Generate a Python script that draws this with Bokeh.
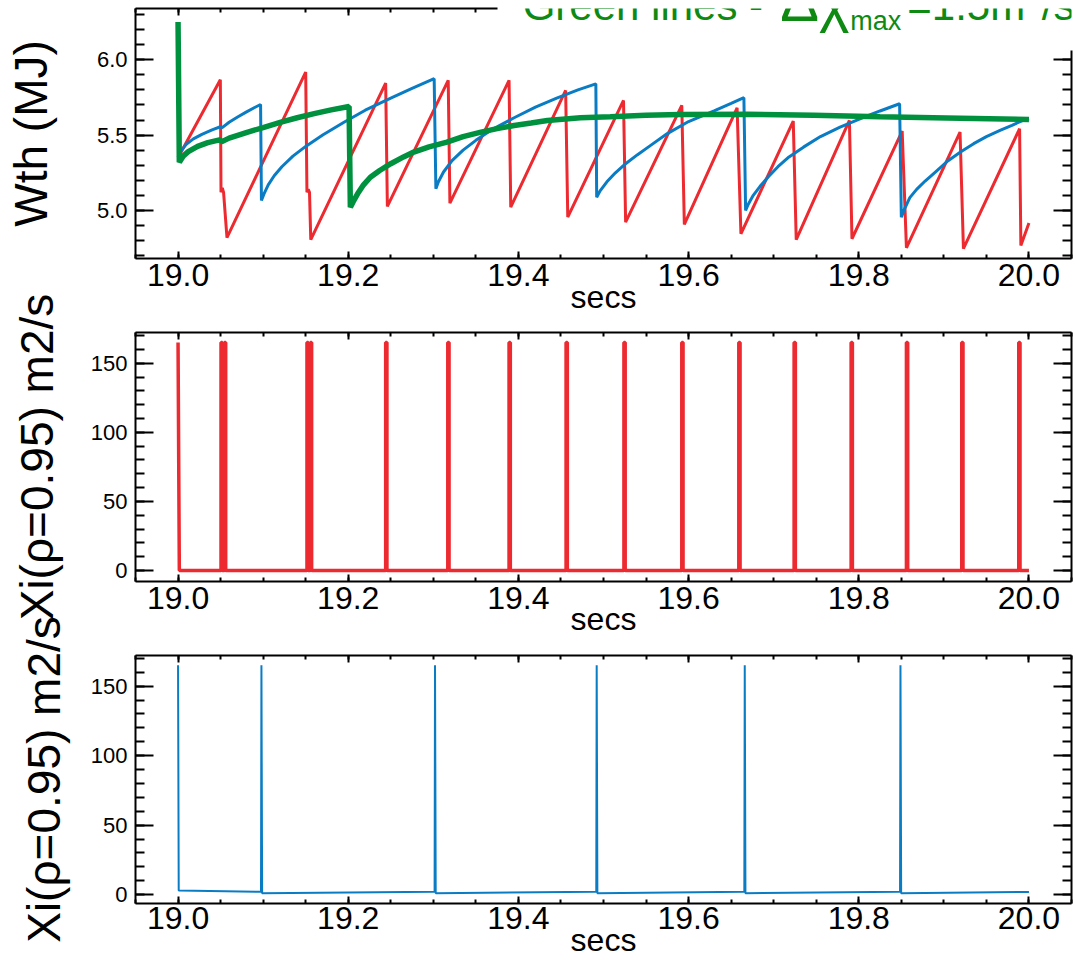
from bokeh.plotting import figure
from bokeh.models import LinearAxis, FixedTicker, NumeralTickFormatter, Range1d, Label
from bokeh.layouts import column
from bokeh.embed import file_html
from bokeh.resources import INLINE

# ---------------- data ----------------
# Stored energy Wth (MJ) - red case
red_t = [19.000, 19.0497, 19.0505, 19.0520, 19.0535, 19.0575, 19.1500, 19.1515, 19.1530,
         19.1545, 19.1560, 19.2440, 19.2460, 19.3175, 19.3195, 19.3890, 19.3910, 19.4555,
         19.4580, 19.5235, 19.5260, 19.5920, 19.5950, 19.6570, 19.6615, 19.7230, 19.7265,
         19.7890, 19.7920, 19.8510, 19.8560, 19.9190, 19.9230, 19.9890, 19.9905, 20.0000]
red_w = [5.35, 5.867, 5.12, 5.15, 5.12, 4.82, 5.918, 5.12, 5.14,
         5.12, 4.806, 5.845, 5.027, 5.863, 5.048, 5.863, 5.022, 5.796,
         4.956, 5.73, 4.922, 5.697, 4.907, 5.681, 4.845, 5.593, 4.806,
         5.597, 4.812, 5.526, 4.752, 5.52, 4.746, 5.542, 4.768, 4.916]

# Stored energy Wth (MJ) - blue case
blue_t = [19.000, 19.004, 19.010, 19.018, 19.028, 19.040, 19.0505, 19.0515, 19.060, 19.070,
          19.080, 19.090, 19.097, 19.098, 19.101, 19.106, 19.113, 19.122, 19.135, 19.150,
          19.170, 19.195, 19.220, 19.250, 19.275, 19.301, 19.303, 19.306, 19.312, 19.322,
          19.335, 19.350, 19.370, 19.395, 19.420, 19.445, 19.470, 19.491, 19.492, 19.496,
          19.504, 19.514, 19.526, 19.540, 19.555, 19.575, 19.600, 19.630, 19.650, 19.665,
          19.667, 19.670, 19.676, 19.684, 19.694, 19.705, 19.718, 19.735, 19.755, 19.778,
          19.800, 19.825, 19.848, 19.850, 19.853, 19.860, 19.868, 19.878, 19.890, 19.905,
          19.920, 19.935, 19.950, 19.966, 19.980, 19.993, 20.000]
blue_w = [5.35, 5.40, 5.44, 5.475, 5.505, 5.535, 5.557, 5.548, 5.585, 5.62,
          5.652, 5.683, 5.703, 5.066, 5.11, 5.17, 5.23, 5.29, 5.36, 5.425,
          5.50, 5.585, 5.665, 5.745, 5.81, 5.874, 5.144, 5.19, 5.255, 5.33,
          5.40, 5.465, 5.54, 5.615, 5.685, 5.745, 5.80, 5.84, 5.088, 5.13,
          5.19, 5.25, 5.31, 5.37, 5.43, 5.51, 5.59, 5.66, 5.71, 5.748,
          5.00, 5.04, 5.10, 5.16, 5.225, 5.29, 5.355, 5.42, 5.49, 5.553,
          5.605, 5.66, 5.708, 4.955, 5.00, 5.085, 5.14, 5.195, 5.255, 5.33,
          5.39, 5.443, 5.49, 5.531, 5.565, 5.598, 5.608]

# Stored energy Wth (MJ) - green case
green_t = [19.000, 19.0015, 19.006, 19.012, 19.023, 19.035, 19.050, 19.051, 19.060, 19.082,
           19.100, 19.121, 19.140, 19.160, 19.180, 19.201, 19.2025, 19.206, 19.211, 19.218,
           19.226, 19.237, 19.250, 19.265, 19.277, 19.295, 19.316, 19.335, 19.356, 19.375,
           19.395, 19.415, 19.434, 19.473, 19.508, 19.550, 19.590, 19.669, 19.747, 19.825,
           19.903, 20.000]
green_w = [6.25, 5.32, 5.36, 5.39, 5.425, 5.45, 5.47, 5.455, 5.48, 5.52,
           5.55, 5.586, 5.615, 5.642, 5.667, 5.69, 5.022, 5.06, 5.11, 5.17,
           5.22, 5.265, 5.31, 5.355, 5.387, 5.422, 5.453, 5.49, 5.52, 5.543,
           5.564, 5.58, 5.597, 5.615, 5.622, 5.632, 5.637, 5.638, 5.632, 5.621,
           5.614, 5.604]

# Xi(rho=0.95) spikes, red case (times of each spike, m2/s)
xi_red_spike_t = [19.0505, 19.0545, 19.1515, 19.1555, 19.244, 19.317, 19.389, 19.456,
                  19.524, 19.592, 19.659, 19.724, 19.791, 19.856, 19.921, 19.988]
xi_red_peak = 165.0
xi_red_base = 0.0

# Xi(rho=0.95) spikes, blue case
xi_blue_spike_t = [19.000, 19.098, 19.302, 19.492, 19.666, 19.849]
xi_blue_peak = 165.0
xi_blue_base_start = [3.0, 1.0, 1.0, 1.0, 1.0, 1.0]
xi_blue_base_end = [2.0, 2.0, 2.0, 2.0, 2.0, 1.9]

x_ticks = [19.0, 19.2, 19.4, 19.6, 19.8, 20.0]
w_ticks = [5.0, 5.5, 6.0]
xi_ticks = [0, 50, 100, 150]

# ---------------- styling ----------------
FONT = "Liberation Sans"
RED = "#ec2a30"
BLUE = "#0a7cc4"
GREEN = "#00913f"
TITLE_GREEN = "#0e8a12"
XR = (18.95, 20.05)
x_minor = [round(18.95 + 0.05 * i, 2) for i in range(23)]
w_minor = [round(4.7 + 0.1 * i, 1) for i in range(17)]
xi_minor = [10 * i for i in range(18)]
TOP_AXIS_END = 19.376   # top axis of panel 1 is hidden right of the title


def build_spikes_red():
    xs, ys = [19.0, 19.0015], [xi_red_peak, xi_red_base]
    w = 0.0015
    for t in xi_red_spike_t:
        xs += [t, t, t + w, t + w]
        ys += [xi_red_base, xi_red_peak, xi_red_peak, xi_red_base]
    xs.append(20.0)
    ys.append(xi_red_base)
    return xs, ys


def build_spikes_blue():
    xs, ys = [], []
    n = len(xi_blue_spike_t)
    for i, t in enumerate(xi_blue_spike_t):
        xs.append(t)
        ys.append(xi_blue_peak)
        t_next = xi_blue_spike_t[i + 1] - 0.0005 if i + 1 < n else 20.0
        xs += [t + 0.0008, t_next]
        ys += [xi_blue_base_start[i], xi_blue_base_end[i]]
    return xs, ys


def make_fig(height, yr, top_b, bot_b, transparent):
    p = figure(width=1075, height=height, x_range=Range1d(*XR), y_range=Range1d(*yr),
               x_axis_type=None, y_axis_type=None, output_backend="svg",
               toolbar_location=None, min_border_left=135, min_border_right=4,
               min_border_top=top_b, min_border_bottom=bot_b)
    p.outline_line_color = None
    if transparent:
        p.border_fill_color = None
    return p


def style(ax, tick_in, minor_in, labels, font_size="22px"):
    ax.axis_line_width = 2
    ax.axis_line_color = "black"
    ax.major_tick_line_width = 2
    ax.minor_tick_line_width = 2
    ax.major_tick_line_color = "black"
    ax.minor_tick_line_color = "black"
    ax.major_tick_in = tick_in
    ax.major_tick_out = 0
    ax.minor_tick_in = minor_in
    ax.minor_tick_out = 0
    if labels:
        ax.major_label_text_font = FONT
        ax.major_label_text_font_size = font_size
        ax.major_label_text_color = "black"
    else:
        ax.major_label_text_font_size = "0px"
        ax.major_label_standoff = 0


def add_axes(p, yticks, yminor, yfmt, ylabel, ylabel_standoff, top_bounds=None,
             right_bounds=None, xlabel_standoff=-10, xtick_standoff=5):
    xt = FixedTicker(ticks=x_ticks, minor_ticks=x_minor)
    yt = FixedTicker(ticks=yticks, minor_ticks=yminor)
    b = LinearAxis(ticker=xt, formatter=NumeralTickFormatter(format="0.0"), axis_label="secs")
    style(b, 7, 4, True, "32px")
    b.major_label_standoff = xtick_standoff
    b.axis_label_text_font = FONT
    b.axis_label_text_font_size = "32px"
    b.axis_label_text_font_style = "normal"
    b.axis_label_text_color = "black"
    b.axis_label_standoff = xlabel_standoff
    p.add_layout(b, "below")

    if top_bounds is None:
        a = LinearAxis(ticker=FixedTicker(ticks=x_ticks, minor_ticks=x_minor))
    else:
        a = LinearAxis(ticker=FixedTicker(
            ticks=[t for t in x_ticks if t <= top_bounds[1]],
            minor_ticks=[t for t in x_minor if t <= top_bounds[1]]), bounds=top_bounds)
    style(a, 7, 4, False)
    p.add_layout(a, "above")

    l = LinearAxis(ticker=yt, formatter=NumeralTickFormatter(format=yfmt), axis_label=ylabel)
    style(l, 18, 9, True, "22px")
    l.major_label_standoff = 8
    l.axis_label_text_font = FONT
    l.axis_label_text_font_size = "46px"
    l.axis_label_text_font_style = "normal"
    l.axis_label_text_color = "black"
    l.axis_label_standoff = ylabel_standoff
    p.add_layout(l, "left")

    if right_bounds is None:
        r = LinearAxis(ticker=FixedTicker(ticks=yticks, minor_ticks=yminor))
    else:
        r = LinearAxis(ticker=FixedTicker(
            ticks=[t for t in yticks if t <= right_bounds[1]],
            minor_ticks=[t for t in yminor if t <= right_bounds[1]]), bounds=right_bounds)
    style(r, 18, 9, False)
    p.add_layout(r, "right")


# ---------------- panel 1: Wth ----------------
p1 = make_fig(328, (4.681, 6.340), 8, 70, False)
add_axes(p1, w_ticks, w_minor, "0.0", "Wth (MJ)", 37,
         top_bounds=(18.95, TOP_AXIS_END), right_bounds=(4.681, 6.06))
p1.line(red_t, red_w, line_color=RED, line_width=3)
p1.line(blue_t, blue_w, line_color=BLUE, line_width=3)
p1.line(green_t, green_w, line_color=GREEN, line_width=5.5)

# title pieces (x in secs, y in MJ, text vertically centred on y)
title_parts = [
    (19.405, 6.360, "Green lines - ", "42px"),
    (19.7077, 6.393, "\u0394\u03c7", "58px"),
    (19.790, 6.254, "max", "27px"),
    (19.857, 6.360, "=1.5m", "42px"),
    (19.9988, 6.413, "2", "27px"),
    (20.015, 6.360, "/s", "42px"),
]
for x, y, txt, fs in title_parts:
    p1.add_layout(Label(x=x, y=y, text=txt, text_font=FONT, text_font_size=fs,
                        text_color=TITLE_GREEN, text_baseline="middle"))

# ---------------- panel 2: Xi red ----------------
p2 = make_fig(369, (-7.96, 172.2), 50, 70, True)
add_axes(p2, xi_ticks, xi_minor, "0", "Xi(\u03c1=0.95) m2/s", 25, xlabel_standoff=-11)
rx, ry = build_spikes_red()
p2.line(rx, ry, line_color=RED, line_width=3.5)
p2.margin = (-46, 0, 0, 0)

# ---------------- panel 3: Xi blue ----------------
p3 = make_fig(360, (-6.4, 172.1), 55, 55, True)
add_axes(p3, xi_ticks, xi_minor, "0", "Xi(\u03c1=0.95) m2/s", 18,
         xlabel_standoff=-10, xtick_standoff=3)
bx, by = build_spikes_blue()
p3.line(bx, by, line_color=BLUE, line_width=2)
p3.margin = (-51, 0, 0, 0)

layout = column(p1, p2, p3, spacing=0)
open("out.html", "w").write(file_html(layout, INLINE))
